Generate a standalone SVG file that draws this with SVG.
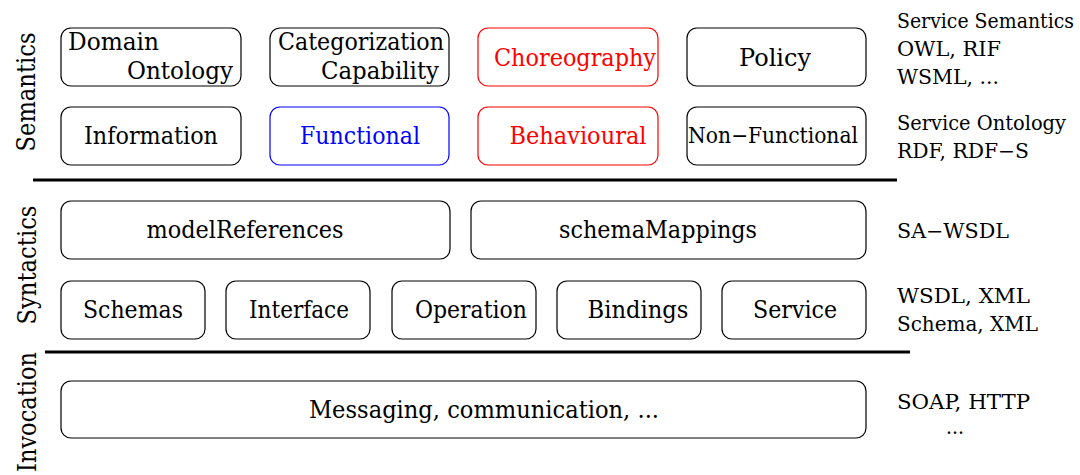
<svg xmlns="http://www.w3.org/2000/svg" width="1080" height="475" viewBox="0 0 1080 475">
<style>
text{font-family:'DejaVu Serif','Liberation Serif',serif;fill:#000}
.box{fill:#fff;stroke:#000;stroke-width:1.2}
.red{stroke:#ff0000}
.blue{stroke:#0000ff}
.t{font-size:25px;text-anchor:middle}
.tr{fill:#ff0000}
.tb{fill:#0000ff}
.lbl{font-size:19.5px}
.side{font-size:26px;text-anchor:middle}
.sep{stroke:#000;stroke-width:3}
</style>
<g id="side-labels">
<text class="side" transform="translate(35,92) rotate(-90)" textLength="119" lengthAdjust="spacingAndGlyphs">Semantics</text>
<text class="side" transform="translate(36,265) rotate(-90)" textLength="119" lengthAdjust="spacingAndGlyphs">Syntactics</text>
<text class="side" transform="translate(36,412) rotate(-90)" textLength="120" lengthAdjust="spacingAndGlyphs">Invocation</text>
</g>
<g id="connectors">
<line class="sep" x1="33" y1="180" x2="897" y2="180"/>
<line class="sep" x1="45" y1="352" x2="910" y2="352"/>
</g>
<g id="domain-ontology"><rect class="box" x="61" y="28" width="180" height="58" rx="10"/><text class="t" x="68" y="50" style="text-anchor:start" textLength="91" lengthAdjust="spacingAndGlyphs">Domain</text><text class="t" x="233" y="79" style="text-anchor:end" textLength="106" lengthAdjust="spacingAndGlyphs">Ontology</text></g>
<g id="categorization-capability"><rect class="box" x="270" y="28" width="179" height="58" rx="10"/><text class="t" x="361" y="50" textLength="166" lengthAdjust="spacingAndGlyphs">Categorization</text><text class="t" x="439" y="79" style="text-anchor:end" textLength="118" lengthAdjust="spacingAndGlyphs">Capability</text></g>
<g id="choreography"><rect class="box red" x="478" y="28" width="180" height="58" rx="10"/><text class="t tr" x="575" y="66" textLength="162" lengthAdjust="spacingAndGlyphs">Choreography</text></g>
<g id="policy"><rect class="box" x="687" y="28" width="179" height="58" rx="10"/><text class="t" x="775" y="66" textLength="72" lengthAdjust="spacingAndGlyphs">Policy</text></g>
<g id="information"><rect class="box" x="61" y="107" width="180" height="58" rx="10"/><text class="t" x="151" y="144" textLength="134" lengthAdjust="spacingAndGlyphs">Information</text></g>
<g id="functional"><rect class="box blue" x="270" y="107" width="179" height="58" rx="10"/><text class="t tb" x="360" y="144" textLength="120" lengthAdjust="spacingAndGlyphs">Functional</text></g>
<g id="behavioural"><rect class="box red" x="478" y="107" width="180" height="58" rx="10"/><text class="t tr" x="578" y="144" textLength="137" lengthAdjust="spacingAndGlyphs">Behavioural</text></g>
<g id="non-functional"><rect class="box" x="687" y="107" width="179" height="58" rx="10"/><text class="t" x="773" y="143" style="font-size:21.5px" textLength="170" lengthAdjust="spacingAndGlyphs">Non−Functional</text></g>
<g id="modelreferences"><rect class="box" x="61" y="201" width="389" height="58" rx="10"/><text class="t" x="245" y="238" textLength="197" lengthAdjust="spacingAndGlyphs">modelReferences</text></g>
<g id="schemamappings"><rect class="box" x="471" y="201" width="395" height="58" rx="10"/><text class="t" x="658" y="238" textLength="198" lengthAdjust="spacingAndGlyphs">schemaMappings</text></g>
<g id="schemas"><rect class="box" x="61" y="281" width="144" height="58" rx="10"/><text class="t" x="133" y="318" textLength="100" lengthAdjust="spacingAndGlyphs">Schemas</text></g>
<g id="interface"><rect class="box" x="226" y="281" width="144" height="58" rx="10"/><text class="t" x="299" y="318" textLength="100" lengthAdjust="spacingAndGlyphs">Interface</text></g>
<g id="operation"><rect class="box" x="392" y="281" width="144" height="58" rx="10"/><text class="t" x="471" y="318" textLength="112" lengthAdjust="spacingAndGlyphs">Operation</text></g>
<g id="bindings"><rect class="box" x="557" y="281" width="144" height="58" rx="10"/><text class="t" x="638" y="318" textLength="101" lengthAdjust="spacingAndGlyphs">Bindings</text></g>
<g id="service"><rect class="box" x="722" y="281" width="144" height="58" rx="10"/><text class="t" x="795" y="318" textLength="84" lengthAdjust="spacingAndGlyphs">Service</text></g>
<g id="messaging"><rect class="box" x="61" y="381" width="805" height="57" rx="10"/><text class="t" x="484" y="418" textLength="350" lengthAdjust="spacingAndGlyphs">Messaging, communication, ...</text></g>
<g id="right-labels">
<text class="lbl" x="897" y="28" textLength="177" lengthAdjust="spacingAndGlyphs">Service Semantics</text>
<text class="lbl" x="897" y="56" textLength="104" lengthAdjust="spacingAndGlyphs">OWL, RIF</text>
<text class="lbl" x="897" y="84" textLength="102" lengthAdjust="spacingAndGlyphs">WSML, ...</text>
<text class="lbl" x="897" y="130" textLength="169" lengthAdjust="spacingAndGlyphs">Service Ontology</text>
<text class="lbl" x="897" y="158" textLength="132" lengthAdjust="spacingAndGlyphs">RDF, RDF−S</text>
<text class="lbl" x="897" y="238" textLength="112" lengthAdjust="spacingAndGlyphs">SA−WSDL</text>
<text class="lbl" x="897" y="303" textLength="133" lengthAdjust="spacingAndGlyphs">WSDL, XML</text>
<text class="lbl" x="897" y="331" textLength="141" lengthAdjust="spacingAndGlyphs">Schema, XML</text>
<text class="lbl" x="897" y="409" textLength="133" lengthAdjust="spacingAndGlyphs">SOAP, HTTP</text>
<text class="lbl" x="946" y="434" textLength="18" lengthAdjust="spacingAndGlyphs">...</text>
</g>
</svg>
